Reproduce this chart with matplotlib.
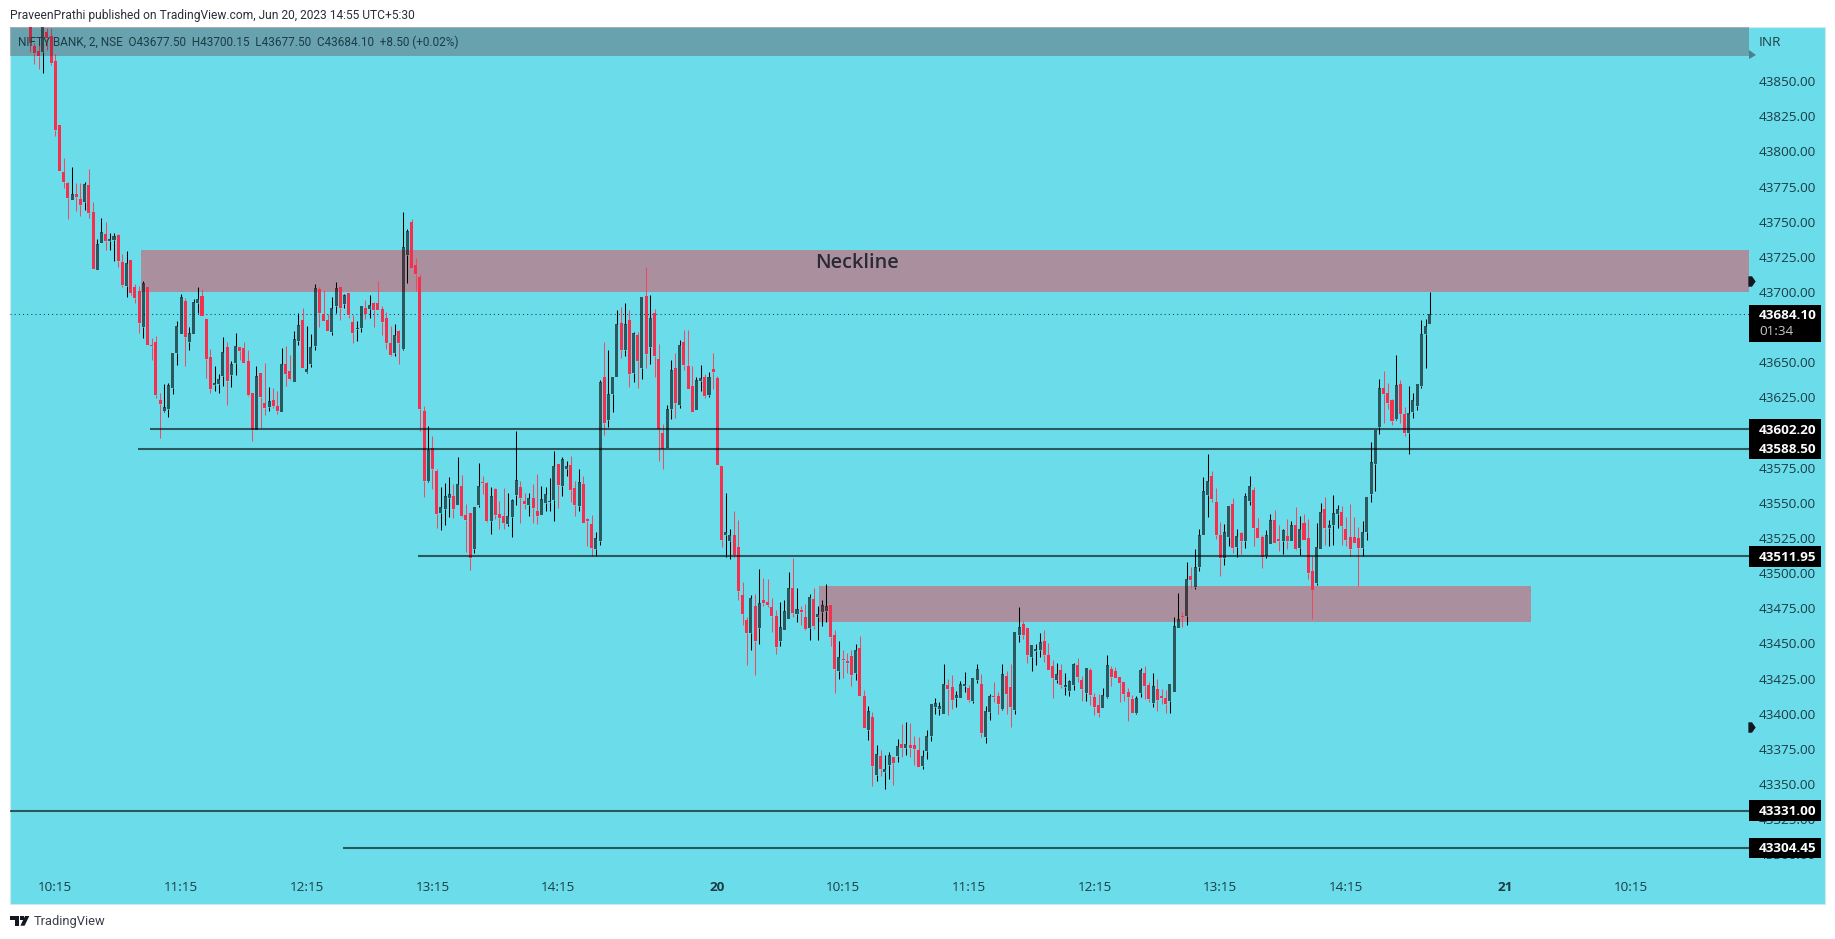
#!/usr/bin/env python3
"""NIFTY BANK 2-minute candles, 19-20 Jun 2023, with neckline and support zones."""

import numpy as np
import matplotlib
matplotlib.use("Agg")
import matplotlib.pyplot as plt
from matplotlib.patches import Rectangle, Polygon
from matplotlib.transforms import blended_transform_factory

W, H = 1835, 939
plt.rcParams["font.family"] = ["Open Sans", "DejaVu Sans"]

# prices are stored as offset from BASE
BASE = 43000
opens = [
    895, 875, 871.2, 870.7, 884.7, 881.8, 864.1, 818.6, 785.3, 777.4,
    765.4, 769.4, 766.1, 764.2, 776, 756.6, 715.7, 735.1, 741.2, 736.5,
    737, 740.8, 721.1, 704.5, 722.7, 703.5, 700.7, 675.1, 703.5, 662,
    664.5, 623.3, 615.5, 616.9, 631.8, 656.7, 670.1, 693.6, 664.5, 670.1,
    692.2, 697.1, 680.8, 653.8, 633.9, 634.6, 640.3, 660.9, 641, 649.6,
    660.9, 660.2, 651, 628.3, 602, 642.5, 621.2, 618.3, 623.3, 619,
    614.8, 648.8, 643.9, 636.1, 665.2, 680.1, 643.2, 648.8, 661.6, 702.1,
    684.3, 680.1, 671.6, 690, 703.5, 691.5, 699.3, 678.7, 673.7, 674.4,
    688.6, 687.9, 692.2, 692.2, 687.9, 681.5, 663.8, 656.7, 672.3, 659.5,
    726.2, 750, 719.1, 710.6, 615.5, 565.8, 589.2, 572.9, 543.1, 545.9,
    553.7, 555.1, 548.7, 562.2, 541.6, 543.1, 516.8, 548.7, 565, 564.4,
    537.4, 560.1, 542.3, 540.9, 535.2, 540.2, 555.8, 561.5, 551.6, 548.7,
    553.7, 544.5, 541.6, 550.2, 550.9, 552.3, 577.9, 562.2, 574.3, 577.1,
    560.8, 548, 563.6, 538.8, 535.2, 517.5, 523.2, 639.6, 609.1, 627.5,
    639.6, 678, 658.8, 680.1, 642.5, 669.4, 646, 697.1, 660.9, 685.1,
    652.4, 599.9, 589.2, 616.9, 646, 619.7, 664.5, 647.4, 633.2, 616.2,
    636.8, 639.6, 626.8, 645.3, 638.9, 576.4, 527.4, 523.2, 527.4, 518.9,
    484.1, 466.4, 457.2, 476.3, 460.7, 480.6, 479.2, 475.6, 469.2, 451.5,
    459.3, 467.1, 489.1, 470.6, 473.5, 468.5, 460.7, 481.3, 468.5, 472.1,
    472.8, 477, 455.7, 430.2, 438.7, 437.3, 440.8, 428.7, 446.5, 412.4,
    388.3, 397.5, 356.3, 369.8, 358.4, 363.4, 369.1, 369.8, 378.3, 375.5,
    377.6, 377.6, 374.1, 362.7, 373.4, 384, 404.6, 403.2, 399.6, 420.2,
    418.8, 411, 411, 419.5, 418.1, 408.9, 423.8, 420.9, 383.3, 401,
    412.4, 412.4, 403.2, 426.6, 418.8, 402.5, 455.7, 463.5, 460.7, 440.1,
    444.4, 445.1, 451.5, 441.5, 433.7, 423.8, 430.9, 418.8, 416, 420.2,
    434.4, 423.8, 414.5, 430.9, 411.7, 406, 403.9, 411.7, 431.6, 430.2,
    425.9, 422.4, 415.3, 410.3, 400.3, 414.5, 428.8, 420.2, 407.4, 417.4,
    412.4, 411, 408.9, 415.3, 460.7, 469.2, 469.2, 498.3, 489.8, 504.7,
    527.4, 555.8, 569.3, 550.9, 527.4, 510.4, 526, 549.4, 518.9, 528.8,
    523.2, 551.6, 559.4, 532.4, 526, 512.5, 521, 538, 524.6, 523.2,
    526.7, 522.5, 534.5, 518.2, 536, 525.3, 501.2, 492.7, 517.5, 545.9,
    532.4, 534.5, 542.3, 543.8, 531.7, 526, 526, 525.3, 518.2, 529.6,
    556.5, 577.8, 604.1, 631.8, 628.3, 623.3, 609.8, 634.6, 613.3, 599.9,
    614.8, 619, 633.2, 670.2, 677.5,
]
closes = [
    877.3, 870, 867.6, 895, 880.6, 862.9, 815.1, 786, 778.4, 766.8,
    769.6, 767.8, 761.8, 776.8, 756.4, 716.4, 734.1, 742.4, 736.3, 737.7,
    739.8, 722.3, 705, 720.9, 699.5, 695.7, 678, 706.4, 662.3, 661.5,
    626.8, 620.4, 618.3, 633.9, 656.7, 675.8, 696.4, 668, 670.9, 692.9,
    695, 682.9, 652.4, 631.1, 635.3, 638.2, 657.4, 636.8, 648.8, 661.6,
    658.1, 649.6, 626.8, 602, 640.3, 625.4, 617.6, 622.6, 619, 615.5,
    648.8, 641.8, 638.2, 666.6, 676.5, 646, 645.3, 660.9, 702.8, 685,
    679.4, 672.3, 688.6, 702.8, 688.6, 697.8, 683.6, 670.9, 674.4, 690,
    684.4, 690.7, 687.2, 687.2, 678.7, 663.8, 655.2, 669.4, 663.8, 731.9,
    743.3, 717, 712.8, 616.9, 565.8, 587.8, 574.3, 542.3, 547.3, 555.1,
    556.6, 545.9, 563.6, 540.9, 538.1, 510.4, 547.3, 562.2, 564.4, 537.4,
    555.1, 541.6, 539.5, 536, 540.9, 552.3, 566.5, 553.7, 549.4, 553.7,
    546.6, 540.9, 553, 556.6, 551.6, 576.4, 563, 581.4, 576.4, 559.4,
    548.7, 565.1, 536, 537.4, 518.2, 525.3, 636.1, 607, 627.5, 639.6,
    677.3, 658.8, 677.3, 641.7, 670.9, 651, 696.4, 656, 681.5, 654.5,
    602.7, 588.5, 616.9, 644.6, 621.2, 662.3, 648.1, 631.1, 614.8, 637.5,
    638.9, 626.1, 639.6, 643.2, 577.1, 523.9, 528.9, 527.4, 513.2, 487,
    470.6, 457.2, 482, 451.5, 478.5, 478.5, 477, 469.2, 447.2, 461.4,
    472.8, 489.1, 471.4, 474.2, 472, 460, 482.7, 462.1, 470.6, 477,
    476.3, 454.3, 431.6, 440.1, 438, 435.9, 427.3, 445.1, 412.4, 389.7,
    401.8, 362.7, 371.2, 360.6, 360.6, 370.5, 364.8, 376.9, 375.5, 378.3,
    375.5, 374.8, 362, 369.8, 384, 406.7, 407.4, 405.3, 420.9, 417.4,
    409.6, 413.1, 420.9, 420.9, 409.6, 425.2, 431.6, 386.1, 401.8, 412.4,
    411.7, 406.7, 428, 413.8, 404.6, 457.9, 461.4, 455.7, 441.5, 448.6,
    445.8, 450.8, 441.5, 430.9, 425.2, 428, 420.2, 420.2, 423.1, 435.1,
    425.9, 417.4, 432.3, 413.1, 404.6, 400.3, 413.1, 434.4, 425.9, 425.2,
    421.6, 413.8, 411.7, 400.3, 411, 430.9, 419.5, 410.3, 419.5, 409.6,
    411, 406.7, 420.9, 462.1, 467.1, 468.5, 495.5, 494.8, 504, 527.4,
    558.7, 565.8, 553, 527.4, 511.1, 529.6, 548, 518.2, 526.7, 522.5,
    555.1, 562.2, 532.4, 525.3, 511.8, 527.4, 538, 521.7, 523.2, 531,
    523.2, 534.5, 516.8, 531.7, 523.9, 500.4, 487.7, 518.9, 543.8, 532.4,
    534.5, 543.1, 545.9, 533.8, 523.9, 517.5, 521.7, 518.2, 529.6, 554.4,
    579.3, 602, 631.8, 627.5, 621.2, 608.4, 633.9, 613.3, 599.9, 614.1,
    623.3, 634.6, 670.2, 675.8, 684.1,
]
highs = [
    900, 877, 877, 900, 887.5, 887.5, 869.5, 818.6, 795.2, 778,
    788.6, 777.2, 777.2, 777.9, 787.4, 764.2, 737.7, 752.4, 749.5, 741.7,
    741.7, 741.5, 726.8, 729.2, 722.7, 705.7, 704.2, 707.8, 704.2, 667.3,
    668.7, 628.3, 634.6, 635.4, 656.7, 679.4, 698.6, 695.7, 675.1, 695,
    703.5, 702.1, 680.8, 659.5, 647.4, 641.8, 668, 664.5, 651, 670.9,
    660.9, 664.5, 658.8, 628.3, 647.4, 642.5, 649.6, 632.5, 631.8, 629.7,
    660.2, 661.6, 655.2, 672.3, 685.1, 688.6, 675.8, 670.1, 705.7, 703.5,
    701.6, 684.3, 696.4, 707.1, 703.5, 698.6, 699.3, 683.6, 679.4, 690,
    694.3, 697.8, 692.9, 707.8, 690, 685.8, 675.8, 677.2, 673, 756.9,
    744.7, 751.7, 724.1, 712.8, 619, 604.8, 597.7, 574.3, 561.5, 564.4,
    568.6, 563.6, 582.8, 570, 549.4, 543.1, 547.3, 578.6, 569.3, 565.1,
    561.5, 560.8, 551.6, 560.8, 557.3, 553, 601.3, 565.8, 557.3, 557.3,
    563.6, 570.8, 562.2, 561.5, 567.9, 587.1, 577.9, 582.8, 580, 583.5,
    565.8, 574.3, 569.3, 539.5, 541.6, 529.6, 637.5, 664.5, 658.8, 639.6,
    687.2, 689.3, 692.2, 687.2, 671.6, 671.6, 696.4, 717.7, 697.8, 687.9,
    663, 606.3, 619.7, 651.7, 656.7, 665.9, 673, 673, 647.4, 639.6,
    648.1, 641.7, 643.2, 656.7, 640.3, 576.4, 557.3, 531.7, 544.5, 538.1,
    493.4, 468.5, 484.1, 484.8, 502.6, 496.2, 495.5, 482, 473.5, 479.2,
    480.6, 500.5, 511.1, 489.1, 476.3, 477.7, 484.8, 489.1, 476.3, 480.6,
    492, 477, 459.3, 451.5, 445.1, 443, 445.1, 449.3, 455, 416.7,
    405.3, 401, 377.6, 374, 370.5, 372.6, 369.1, 381.9, 392.5, 394,
    393.2, 384, 383.3, 374.1, 388.3, 406.7, 411, 408.2, 435.1, 424.5,
    427.3, 416, 423.1, 429.5, 420.2, 425.2, 435.1, 428, 405.3, 413.8,
    422.4, 415.3, 435.1, 430.2, 435.1, 457.9, 475.6, 465.7, 460.7, 448.6,
    449.3, 457.2, 459.3, 450, 438, 435.8, 435.1, 428.7, 423.8, 435.8,
    439.4, 426.6, 432.3, 432.3, 414.5, 413.8, 418.1, 441.5, 433.7, 433,
    425.9, 422.4, 418.1, 413.1, 412.4, 432.3, 433.7, 422.4, 428.7, 424.5,
    417.4, 416.7, 420.9, 468.5, 485.6, 472.1, 507.6, 504.7, 517.5, 531.7,
    568.6, 585, 572.9, 560.8, 536.7, 535.2, 548, 553.7, 531.7, 529.6,
    557.2, 569.3, 561.5, 539.5, 527.4, 531, 542.3, 545.2, 534.5, 531.7,
    538.8, 537.4, 547.3, 540.9, 542.3, 538.8, 512.5, 536, 550.1, 554.4,
    538.1, 555.8, 548.7, 548, 540.2, 549.4, 540.2, 533.1, 537.4, 554.4,
    593.5, 602, 638.2, 643.9, 635.4, 624, 655.2, 637.5, 618.3, 633.2,
    628.3, 634.6, 680.1, 680.8, 700.15,
]
lows = [
    870.7, 862.4, 858.9, 855.8, 871.9, 861.7, 811.1, 786, 774.1, 751.9,
    765.4, 757.8, 754.3, 758.3, 752.4, 716.4, 715.7, 734.6, 729.9, 729.9,
    722.3, 718, 703.8, 696.7, 698, 692.2, 670.9, 667.3, 662.3, 651.7,
    624.7, 596.3, 614.8, 611.2, 627.5, 648.1, 670.1, 647.4, 658.8, 670.1,
    685.1, 682.9, 638.9, 628.3, 629.7, 628.3, 633.2, 619.7, 632.5, 641,
    651.7, 649.6, 626.1, 594.2, 602, 603.4, 612.6, 615.5, 617.6, 613.3,
    614.8, 633.2, 637.5, 636.1, 662.3, 646, 642.5, 646.7, 658.8, 675.1,
    679.4, 672.3, 669.4, 685.1, 680.1, 688.6, 681.5, 663.8, 665.2, 671.6,
    680.8, 681.5, 675.1, 687.2, 669.4, 659.5, 654.5, 654.5, 648.8, 658.9,
    706.4, 717, 700.7, 601.3, 554.4, 565, 560.1, 532.4, 531, 534.5,
    540.2, 539.5, 548.7, 540, 514.7, 501.9, 514, 547.3, 556.6, 536.7,
    528.1, 538.8, 531.7, 531.7, 533.8, 526, 548.7, 536, 545.9, 540.9,
    536, 535.2, 541.6, 544.5, 544.5, 537.4, 546.6, 555.1, 569.3, 550.9,
    540.9, 544.5, 536, 519.6, 512.5, 512.5, 520.3, 598.4, 604.1, 614.8,
    639.6, 653.1, 654.5, 632.5, 636.1, 631.8, 638.2, 646, 648.8, 639.6,
    580, 574.3, 589, 609.8, 610.5, 617.6, 644.6, 631.1, 614.8, 616.2,
    629.7, 624.7, 625.4, 631.1, 577.1, 518.9, 511.8, 509.7, 511.8, 480.6,
    462.8, 434.4, 445.1, 427.3, 449.3, 476.3, 475.6, 457.9, 442.2, 447.9,
    459.3, 467.1, 468.5, 465, 462.8, 459.3, 452.2, 460, 452.2, 462.1,
    465, 447.9, 414.5, 424.5, 425.2, 428.7, 419.5, 423.8, 412.4, 389.7,
    381.2, 348.5, 352.1, 355.6, 346.4, 353.5, 349.2, 365.5, 369.1, 370.5,
    369.1, 363.4, 362, 360.6, 367.7, 380.5, 399.6, 398.9, 399.6, 398.9,
    403.2, 404.6, 411, 415.3, 408.2, 407.4, 421.6, 383.3, 379, 395.4,
    408.2, 399.6, 402.5, 399.6, 390.4, 399.6, 450.8, 452.9, 435.8, 430.2,
    434.4, 440.1, 436.6, 430.9, 411, 421.6, 418.1, 413.1, 412.4, 416.7,
    422.4, 408.9, 408.9, 406, 398.9, 397.5, 403.9, 411, 419.5, 425.2,
    408.2, 408.9, 394.7, 400.3, 399.6, 411.7, 410.3, 408.2, 404.6, 401.8,
    406.7, 400.3, 400.3, 415.3, 460.7, 461.4, 462.8, 489.1, 489, 501.2,
    527.4, 540.2, 550.9, 524.6, 497.6, 506.1, 519.6, 514.6, 511.8, 513.9,
    518.2, 548.7, 519.6, 525.3, 503.3, 510.4, 521, 521.7, 515.4, 513.9,
    516.8, 522.5, 516.1, 513.2, 523.9, 495.5, 467.1, 491.2, 517.5, 520.3,
    519.6, 520.3, 532.4, 520.3, 519.6, 512.5, 521.7, 490.7, 512.5, 523.9,
    550.9, 558.7, 599.1, 607, 616.9, 605.5, 609.1, 607, 597.7, 585,
    610.5, 616.2, 631.8, 646, 677.5,
]

# time axis: bar index of each label
time_ticks = [6, 36, 66, 96, 126, 164, 194, 224, 254, 284, 314, 352, 382]
time_labels = ["10:15", "11:15", "12:15", "13:15", "14:15", "20", "10:15", "11:15",
               "12:15", "13:15", "14:15", "21", "10:15"]
bold_labels = ["20", "21"]

price_ticks = np.arange(43300, 43875, 25)

# horizontal levels: price, first bar index (None = from the left edge)
level_prices = [43602.20, 43588.50, 43511.95, 43331.00, 43304.45]
level_starts = [28.6, 25.7, 92.5, None, 74.7]

# zones: low, high, first bar, last bar (None = to the price scale)
zone_lows = [43700.0, 43465.0]
zone_highs = [43729.8, 43490.5]
zone_starts = [26.4, 188.2]
zone_ends = [None, 358.2]

last_price = 43684.10
countdown = "01:34"
scale_arrows = [43707.8, 43390.3]

BG = "#6bddea"
TEXT = "#1c3c46"
RED = "#f5304f"
NARROW = ["Roboto", "DejaVu Sans"]

fig = plt.figure(figsize=(W / 100, H / 100), dpi=100, facecolor="white")


def fx(px):
    return px / W


def fy(py):
    return 1 - py / H


# chart pane background including price and time scales
fig.patches.append(Rectangle((fx(10), fy(904)), fx(1815), 877 / H, transform=fig.transFigure,
                             facecolor=BG, edgecolor="#cdeaf0", lw=0.8, zorder=-5))

ax = fig.add_axes([fx(10), fy(870), fx(1739), 843 / H])
ax.patch.set_visible(False)
for s in ax.spines.values():
    s.set_visible(False)
ax.set_xlim(-4.82, 410.2)
ax.set_ylim(43288.8, 43888.5)

o = BASE + np.array(opens)
c = BASE + np.array(closes)
h = BASE + np.array(highs)
l = BASE + np.array(lows)
x = np.arange(len(o))
up = c >= o
top = np.maximum(o, c)
bot = np.minimum(o, c)

# zones sit under the candles
for lo, hi, x0, x1 in zip(zone_lows, zone_highs, zone_starts, zone_ends):
    ax.add_patch(Rectangle((x0, lo), (x1 if x1 else ax.get_xlim()[1]) - x0, hi - lo,
                           facecolor="#aa909e", edgecolor="none", zorder=1))

ax.text(197.3, 43720.6, "Neckline", ha="center", va="center", fontsize=14.3,
        fontweight="semibold", color="#2a2a32", zorder=6)

ax.vlines(x[up], top[up], h[up], color="black", lw=0.75, zorder=3)
ax.vlines(x[up], l[up], bot[up], color="black", lw=0.75, zorder=3)
ax.vlines(x[~up], top[~up], h[~up], color="#ee4a64", lw=0.75, zorder=3)
ax.vlines(x[~up], l[~up], bot[~up], color="#ee4a64", lw=0.75, zorder=3)
body = np.maximum(top - bot, 0.7)
ax.bar(x[up], body[up], 0.72, bottom=bot[up], color="black", alpha=0.6, lw=0, zorder=3)
ax.bar(x[~up], body[~up], 0.72, bottom=bot[~up], color=RED, lw=0, zorder=3)

# last price dotted line
ax.axhline(last_price, color="#123c46", lw=0.75, ls=(0, (1, 3)), zorder=2)

# levels
for p, s in zip(level_prices, level_starts):
    ax.hlines(p, s if s is not None else ax.get_xlim()[0], ax.get_xlim()[1],
              color="black", alpha=0.6, lw=1.5, zorder=4)

# symbol header strip above everything on the pane
ax.axhspan(43867.6, 43888.5, facecolor=(97 / 255, 27 / 255, 37 / 255), alpha=0.3, lw=0, zorder=5)

ax.yaxis.tick_right()
ax.set_yticks(price_ticks)
ax.set_yticklabels([f"{p:.2f}" for p in price_ticks], fontsize=9.7, color=TEXT)
ax.tick_params(axis="y", length=0, pad=7.2)
ax.set_xticks(time_ticks)
ax.set_xticklabels(time_labels, fontsize=9.7, color=TEXT)
ax.tick_params(axis="x", length=0, pad=8)
for t in ax.get_xticklabels():
    if t.get_text() in bold_labels:
        t.set_fontweight("bold")

# price scale boxes
trans = blended_transform_factory(ax.transAxes, ax.transData)
label_x = (1759 - 10) / 1739
box_w = 72 / 1739
box_half = 7.45
for p in level_prices:
    ax.add_patch(Rectangle((1.0, p - box_half), box_w, 2 * box_half, transform=trans,
                           facecolor="black", edgecolor="none", clip_on=False, zorder=7))
    ax.text(label_x, p - 0.7, f"{p:.2f}", transform=trans, color="white", fontsize=9.7,
            fontweight="bold", va="center", ha="left", clip_on=False, zorder=8)
ax.add_patch(Rectangle((1.0, last_price - 19.4), box_w, 26.1, transform=trans,
                       facecolor="black", edgecolor="none", clip_on=False, zorder=7))
ax.text(label_x, last_price - 1.1, f"{last_price:.2f}", transform=trans, color="white",
        fontsize=9.7, fontweight="bold", va="center", ha="left", clip_on=False, zorder=8)
ax.text(label_x, last_price - 12.5, countdown, transform=trans, color="#c8c8c8",
        fontsize=9.7, va="center", ha="left", clip_on=False, zorder=8)

# small pointers on the scale edge
pointer = [(-0.6, -1), (0.1, -1), (0.8, 0), (0.1, 1), (-0.6, 1)]
ax.plot(np.ones(len(scale_arrows)) * 1.0012, scale_arrows, transform=trans, marker=pointer,
        ms=7.5, mew=0, color="#131722", ls="none", clip_on=False, zorder=7)

# texts outside the data
fig.text(fx(18), fy(42), "NIFTY BANK, 2, NSE  O43677.50  H43700.15  L43677.50  C43684.10  +8.50 (+0.02%)",
         fontsize=8.5, family=NARROW, color=TEXT, va="center", ha="left", zorder=10)
fig.text(fx(1759), fy(42), "INR", fontsize=9.7, color=TEXT, va="center", ha="left")
fig.text(fx(10), fy(15), "PraveenPrathi published on TradingView.com, Jun 20, 2023 14:55 UTC+5:30",
         fontsize=8.65, family=NARROW, color="#2a2e39", va="center", ha="left")
fig.text(fx(34), fy(921), "TradingView", fontsize=9.3, family=NARROW, color="#3a3e49", va="center", ha="left")

# TradingView logo
logo = "#131722"
px_pts = lambda pts: [(fx(a), fy(b)) for a, b in pts]
fig.patches.append(Polygon(px_pts([(10, 916), (19.3, 916), (19.3, 925.7), (15, 925.7), (15, 920), (10, 920)]),
                           transform=fig.transFigure, facecolor=logo, edgecolor="none"))
fig.patches.append(Polygon(px_pts([(25, 916), (29.3, 916), (24.6, 925.7), (20.4, 925.7)]),
                           transform=fig.transFigure, facecolor=logo, edgecolor="none"))
fig.patches.append(Polygon(px_pts([(20.3, 916), (23.5, 916), (23.5, 919.5), (20.3, 919.5)]),
                           transform=fig.transFigure, facecolor=logo, edgecolor="none"))
# pointer under the header strip
fig.patches.append(Polygon(px_pts([(1749, 50), (1756, 55), (1749, 59)]),
                           transform=fig.transFigure, facecolor="#4f7e8c", edgecolor="none"))

fig.savefig("out.png", dpi=100)
